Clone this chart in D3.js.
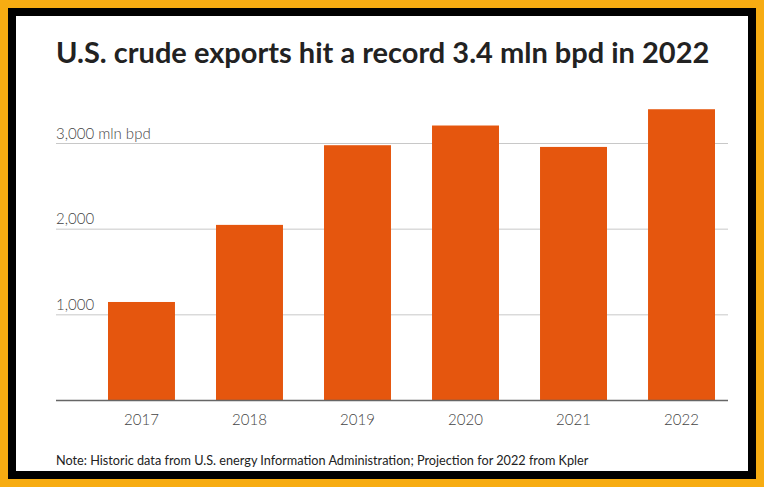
<!DOCTYPE html>
<html lang="en">

<head>
    <meta charset="UTF-8">
    <script src="https://d3js.org/d3.v7.min.js"></script>
    <title>U.S. crude exports</title>
    <style>
        body { margin: 0; background: #f7ac12; }
        svg { display: block; }
        text { font-family: Lato, "Open Sans", sans-serif; }
    </style>
</head>

<body>
    <svg class="chart"></svg>
    <script>
        // data
        var years = ["2017", "2018", "2019", "2020", "2021", "2022"];
        var exportsMlnBpd = [1150, 2050, 2980, 3210, 2960, 3400];
        var yTicks = [1000, 2000, 3000];

        var width = 764,
            height = 487;

        var svg = d3.select(".chart")
            .attr("width", width)
            .attr("height", height);

        // frame: orange outside, black band, white card
        svg.append("rect")
            .attr("x", 0).attr("y", 0)
            .attr("width", width).attr("height", height)
            .attr("fill", "#f7ac12");
        svg.append("rect")
            .attr("x", 8).attr("y", 8)
            .attr("width", 748).attr("height", 471)
            .attr("fill", "#000");
        svg.append("rect")
            .attr("x", 16).attr("y", 16)
            .attr("width", 732).attr("height", 455)
            .attr("fill", "#fff");

        svg.append("text")
            .attr("x", 56)
            .attr("y", 63)
            .attr("font-size", 29)
            .attr("font-weight", "bold")
            .attr("fill", "#222")
            .text("U.S. crude exports hit a record 3.4 mln bpd in 2022");

        var x = d3.scaleBand()
            .domain(years)
            .range([108, 715])
            .paddingInner(0.38)
            .paddingOuter(0);

        var y = d3.scaleLinear()
            .domain([0, 3000])
            .range([400.5, 143.5]);

        // gridlines with labels sitting on top, left aligned
        var grid = svg.append("g")
            .selectAll("g")
            .data(yTicks)
            .enter()
            .append("g")
            .attr("transform", function(d) { return "translate(0," + y(d) + ")"; });

        grid.append("line")
            .attr("x1", 56).attr("x2", 728)
            .attr("stroke", "#c8c8c8")
            .attr("stroke-width", 1);

        grid.append("text")
            .attr("x", 56)
            .attr("y", -5)
            .attr("font-size", 15)
            .attr("font-weight", 300)
            .attr("fill", "#444")
            .text(function(d, i) {
                var s = d3.format(",")(d);
                return i == yTicks.length - 1 ? s + " mln bpd" : s;
            });

        svg.append("g")
            .selectAll("rect")
            .data(exportsMlnBpd)
            .enter()
            .append("rect")
            .attr("x", function(d, i) { return x(years[i]); })
            .attr("y", function(d) { return y(d); })
            .attr("width", x.bandwidth())
            .attr("height", function(d) { return y(0) - y(d); })
            .attr("fill", "#e5560e");

        var xAxis = svg.append("g")
            .attr("transform", "translate(0," + y(0) + ")")
            .call(d3.axisBottom(x).tickSize(0).tickPadding(14));

        xAxis.select(".domain").remove();
        xAxis.selectAll("text")
            .attr("font-size", 15)
            .attr("font-weight", 300)
            .attr("fill", "#444")
            .style("font-family", "Lato, sans-serif");

        svg.append("line")
            .attr("x1", 56).attr("x2", 728)
            .attr("y1", y(0)).attr("y2", y(0))
            .attr("stroke", "#666")
            .attr("stroke-width", 1.5);

        svg.append("text")
            .attr("x", 56)
            .attr("y", 465)
            .attr("font-size", 12.7)
            .attr("fill", "#222")
            .text("Note: Historic data from U.S. energy Information Administration; Projection for 2022 from Kpler");
    </script>
</body>

</html>
